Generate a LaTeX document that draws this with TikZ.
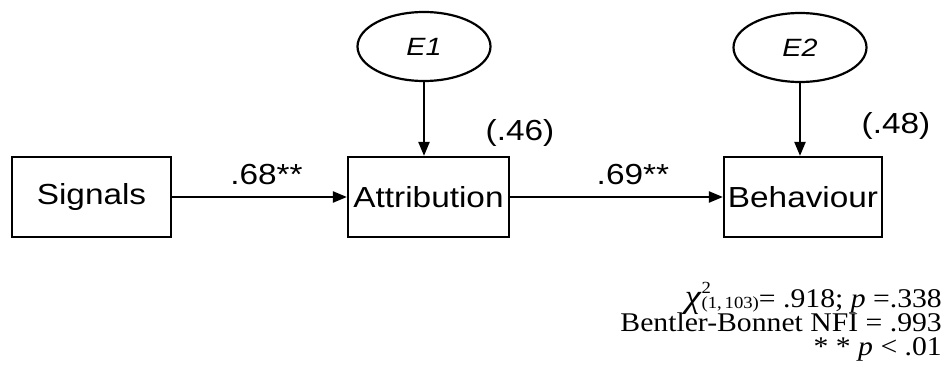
\documentclass[tikz,border=0pt]{standalone}
\usepackage{fontspec}
\setmainfont{Liberation Serif}[FakeStretch=1.1]
\newfontfamily\diagfont{Liberation Sans}[FakeStretch=1.15]
\usetikzlibrary{arrows.meta,shapes.geometric}
\newcommand{\chisq}{{\fontsize{33}{33}\selectfont\textit{χ}}\rlap{\raisebox{14pt}{\fontsize{17}{17}\selectfont 2}}{\fontsize{17}{17}\selectfont\raisebox{-1pt}{(1,\,103)}}}
\begin{document}
\begin{tikzpicture}[x=1pt,y=-1pt,
  box/.style={draw,line width=2.2pt,minimum height=80pt,inner sep=0pt,font=\diagfont\fontsize{29}{34}\selectfont},
  err/.style={draw,ellipse,line width=2.2pt,minimum width=133pt,minimum height=69pt,inner sep=0pt,font=\diagfont\itshape\fontsize{25}{30}\selectfont},
  arr/.style={line width=2.2pt,-{Triangle[length=14pt,width=11pt]}},
  lab/.style={font=\diagfont\fontsize{29}{34}\selectfont,inner sep=0pt,anchor=base},
  stat/.style={font=\fontsize{27}{30}\selectfont,inner sep=0pt,anchor=base east}]
\useasboundingbox (0,0) rectangle (945,370);
\node[box,minimum width=159pt] (S) at (91.5,197) {Signals};
\node[box,minimum width=161pt] (A) at (428.5,197) {Attribution};
\node[box,minimum width=158pt] (B) at (803,197) {Behaviour};
\node[err] (E1) at (424,46.5) {E1};
\node[err] (E2) at (800,47.5) {E2};
\draw[arr] (E1.south) -- (E1.south |- A.north);
\draw[arr] (E2.south) -- (E2.south |- B.north);
\draw[arr] (S) -- node[lab,pos=0.54,yshift=13pt] (l1) {.68**} (A);
\draw[arr] (A) -- node[lab,pos=0.577,yshift=13pt] (l2) {.69**} (B);
\node[lab] (r1) at (520,140) {(.46)};
\node[lab] (r2) at (896,133) {(.48)};
\node[stat] (st1) at (942,307) {\chisq= .918; \textit{p} =.338};
\node[stat] (st2) at (942,331) {Bentler-Bonnet NFI = .993};
\node[stat] (st3) at (942,355) {* *\ \textit{p} < .01};
\end{tikzpicture}
\end{document}
